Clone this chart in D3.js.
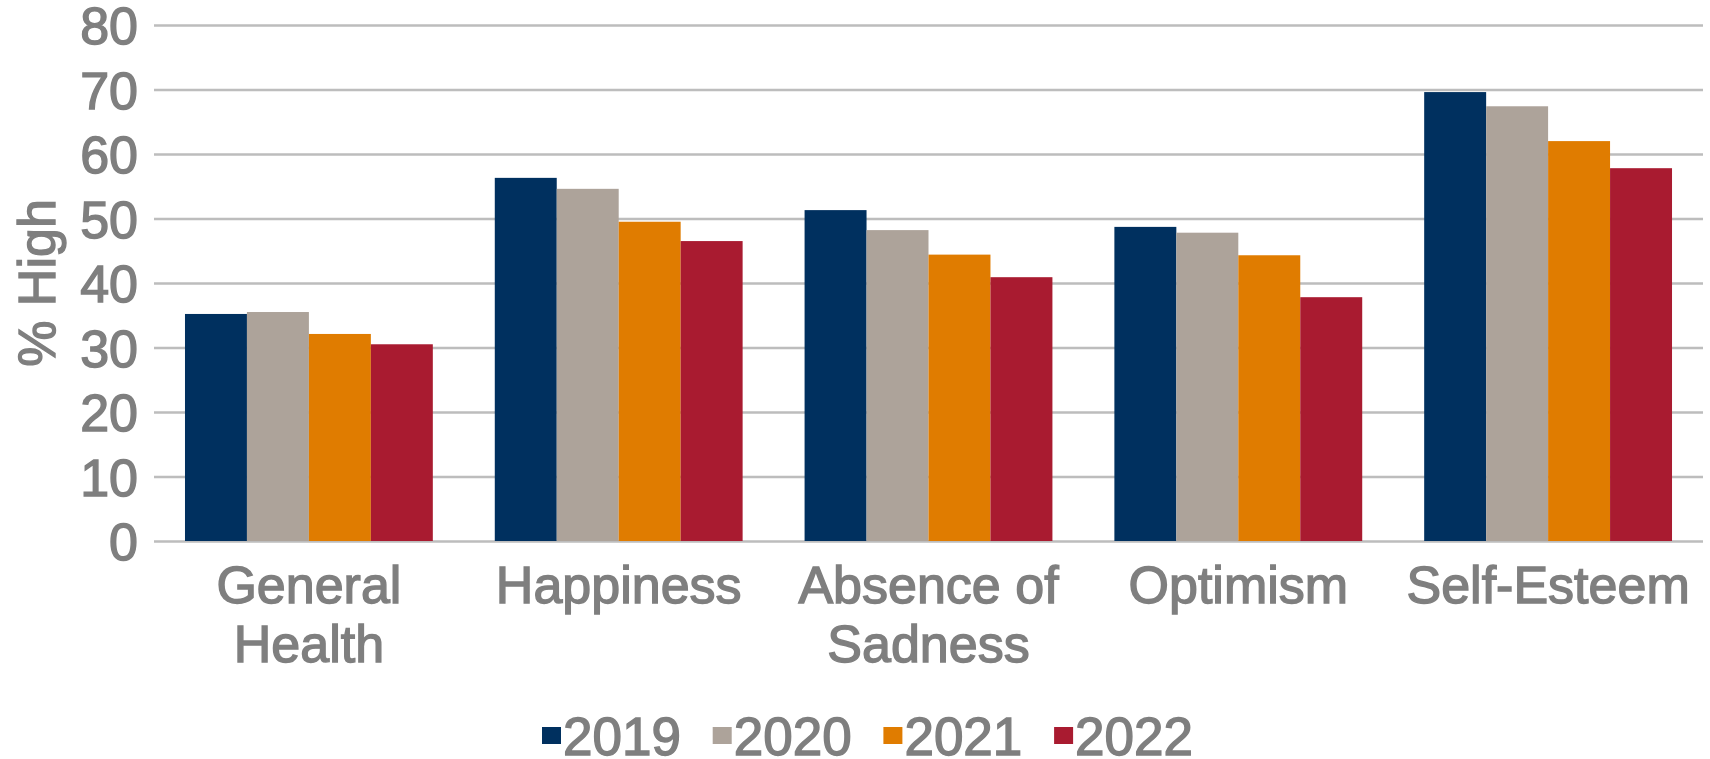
<!DOCTYPE html>
<html>
<head>
<meta charset="utf-8">
<script src="https://cdn.jsdelivr.net/npm/d3@7"></script>
<style>
  body { margin: 0; background: #fff; }
  svg text {
    font-family: "Liberation Sans", Arial, sans-serif;
    fill: #7f7f7f;
    stroke: #7f7f7f;
    stroke-width: 1.4px;
  }
</style>
</head>
<body>
<div id="chart"></div>
<script>
const categories = ["General Health", "Happiness", "Absence of Sadness", "Optimism", "Self-Esteem"];
const catLines = [["General", "Health"], ["Happiness"], ["Absence of", "Sadness"], ["Optimism"], ["Self-Esteem"]];
const years = ["2019", "2020", "2021", "2022"];
const v2019 = [35.2, 56.3, 51.3, 48.7, 69.6];
const v2020 = [35.5, 54.6, 48.2, 47.8, 67.4];
const v2021 = [32.1, 49.5, 44.4, 44.3, 62.0];
const v2022 = [30.5, 46.5, 40.9, 37.8, 57.8];
const yTicks = [0, 10, 20, 30, 40, 50, 60, 70, 80];
const colors = ["#00305f", "#ada39a", "#e07c00", "#a91b30"];

const series = [v2019, v2020, v2021, v2022];
const data = [];
categories.forEach((c, i) => {
    years.forEach((y, j) => data.push({ category: c, year: y, value: series[j][i] }));
});

const width = 1710, height = 759;
const margin = { left: 154, right: 7, top: 25, bottom: 218 };

const svg = d3.select("#chart").append("svg")
    .attr("width", width)
    .attr("height", height);

const x = d3.scaleBand()
    .domain(categories)
    .range([margin.left, width - margin.right])
    .paddingInner(0.2)
    .paddingOuter(0.1);

const xSub = d3.scaleBand()
    .domain(years)
    .range([0, x.bandwidth()]);

const y = d3.scaleLinear()
    .domain([0, 80])
    .range([height - margin.bottom, margin.top]);

const color = d3.scaleOrdinal().domain(years).range(colors);

// y axis + gridlines
const yAxis = svg.append("g")
    .attr("transform", `translate(${margin.left},0)`)
    .call(d3.axisLeft(y)
        .tickValues(yTicks)
        .tickSize(-(width - margin.right - margin.left))
        .tickPadding(16));
yAxis.select(".domain").remove();
yAxis.selectAll(".tick line")
    .attr("stroke", "#bdbdbd")
    .attr("stroke-width", 2.6);
yAxis.selectAll(".tick text")
    .attr("font-size", 52)
    .attr("fill", "#7f7f7f")
    .attr("dy", "0.36em");

// bars
svg.append("g")
    .selectAll("rect")
    .data(data)
    .join("rect")
    .attr("x", d => x(d.category) + xSub(d.year))
    .attr("y", d => y(d.value))
    .attr("width", xSub.bandwidth())
    .attr("height", d => y(0) - y(d.value))
    .attr("fill", d => color(d.year));

// x axis labels
const xAxis = svg.append("g")
    .attr("transform", `translate(0,${y(0)})`)
    .call(d3.axisBottom(x).tickSize(0).tickPadding(0));
xAxis.select(".domain").remove();
xAxis.selectAll(".tick text")
    .attr("font-size", 52)
    .attr("fill", "#7f7f7f")
    .attr("dy", null)
    .attr("y", 0)
    .text(null)
    .each(function (d) {
        const lines = catLines[categories.indexOf(d)];
        d3.select(this).selectAll("tspan")
            .data(lines)
            .join("tspan")
            .attr("x", 0)
            .attr("y", (l, i) => 62 + i * 59)
            .text(l => l);
    });

// y axis title
svg.append("text")
    .attr("transform", `translate(55,${(y(0) + y(80)) / 2}) rotate(-90)`)
    .attr("text-anchor", "middle")
    .attr("font-size", 52)
    .text("% High");

// legend
const legend = svg.append("g")
    .selectAll("g")
    .data(years)
    .join("g")
    .attr("transform", (d, i) => `translate(${542 + i * 170.7},0)`);
legend.append("rect")
    .attr("x", 0)
    .attr("y", 727)
    .attr("width", 19)
    .attr("height", 17)
    .attr("fill", d => color(d));
legend.append("text")
    .attr("x", 21)
    .attr("y", 755)
    .attr("font-size", 53)
    .text(d => d);
</script>
</body>
</html>
